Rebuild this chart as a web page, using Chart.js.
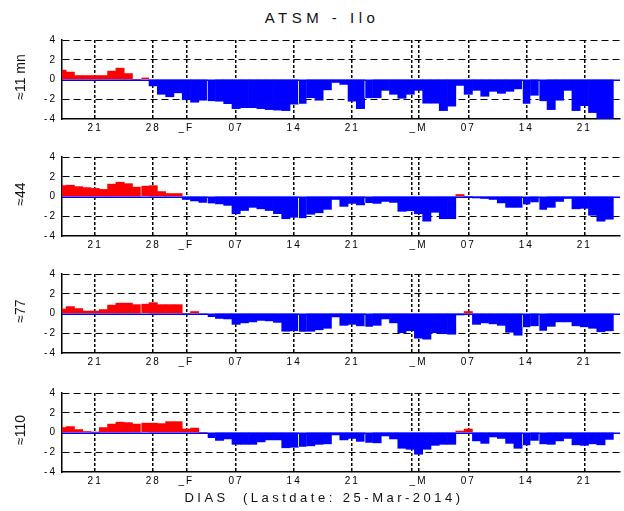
<!DOCTYPE html>
<html>
<head>
<meta charset="utf-8">
<script src="https://cdn.jsdelivr.net/npm/chart.js@4.4.1/dist/chart.umd.min.js"></script>
<style>
  html, body { margin: 0; padding: 0; background: #fff; }
  body { width: 624px; height: 511px; position: relative; overflow: hidden;
         font-family: "Liberation Sans", Arial, sans-serif; color: #111; }
  canvas.panel { position: absolute; left: 0; }
  .title { position: absolute; left: 222px; top: 8px; width: 200px; text-align: center;
           font-size: 15px; letter-spacing: 4.5px; line-height: 20px; white-space: pre; }
  .xlab { position: absolute; left: 124px; top: 489px; width: 400px; text-align: center;
          font-size: 13px; letter-spacing: 3.5px; line-height: 18px; white-space: pre; }
  .ylab { position: absolute; width: 120px; text-align: center; font-size: 14px;
          line-height: 16px; transform: rotate(-90deg); white-space: pre; }
</style>
</head>
<body>
<div class="title">ATSM - Ilo</div>
<canvas class="panel" id="p0" width="624" height="108" style="top:29px"></canvas>
<canvas class="panel" id="p1" width="624" height="108" style="top:146px"></canvas>
<canvas class="panel" id="p2" width="624" height="108" style="top:263px"></canvas>
<canvas class="panel" id="p3" width="624" height="108" style="top:382px"></canvas>
<div class="ylab" id="yl0" style="left:-40px; top:69px"></div>
<div class="ylab" id="yl1" style="left:-40px; top:186px"></div>
<div class="ylab" id="yl2" style="left:-40px; top:303px"></div>
<div class="ylab" id="yl3" style="left:-40px; top:422px"></div>
<div class="xlab">DIAS  (Lastdate: 25-Mar-2014)</div>
<script>
// Daily anomalies, 17-Jan-2014 (index 0) to 24-Mar-2014 (index 66)
const depthLabels = ['≈11 mn', '≈44', '≈77', '≈110'];

const anom11 = [0.95,0.75,0.4,0.4,0.4,0.4,0.85,1.15,0.6,0.0,0.2,
  -0.65,-1.5,-1.75,-1.35,-2.05,-2.3,-2.1,-2.2,-2.2,-2.45,
  -2.95,-2.85,-2.85,-2.95,-3.05,-3.1,-3.15,-2.5,-2.45,-1.85,
  -2.1,-1.05,-0.3,-0.5,-2.2,-2.95,-1.9,-1.85,-1.1,-1.5,
  -1.9,-1.5,-1.1,-2.4,-2.4,-3.15,-2.7,-0.6,-1.5,-1.1,
  -1.7,-1.2,-1.4,-1.2,-0.95,-2.45,-1.6,-2.2,-3.05,-2.1,
  -1.1,-3.15,-2.65,-3.35,-4.0,-4.0];

const anom44 = [1.1,1.15,1.0,0.9,0.82,0.72,1.25,1.45,1.3,0.95,1.1,
  1.1,0.5,0.3,0.3,-0.3,-0.45,-0.6,-0.7,-0.75,-0.9,
  -1.75,-1.42,-1.1,-1.25,-1.42,-1.74,-2.25,-2.1,-2.2,-1.8,
  -1.65,-1.3,-0.3,-1.0,-0.7,-0.85,-0.65,-0.7,-0.5,-0.6,
  -1.5,-1.45,-1.75,-2.5,-1.6,-2.25,-2.25,0.2,-0.02,-0.15,
  -0.2,-0.3,-0.65,-1.1,-1.1,-0.8,-0.55,-1.35,-1.1,-0.5,
  -0.2,-1.25,-1.2,-1.9,-2.5,-2.3];

const anom77 = [0.45,0.7,0.5,0.25,0.25,0.4,0.85,1.05,1.05,0.9,1.0,
  1.1,0.9,0.9,0.9,0.0,0.2,-0.1,-0.35,-0.5,-0.55,
  -1.1,-0.95,-0.85,-0.7,-0.75,-0.9,-1.8,-1.75,-1.85,-1.8,
  -1.65,-1.5,-0.35,-1.2,-1.1,-1.25,-1.35,-1.2,-0.55,-0.95,
  -1.95,-1.75,-2.5,-2.6,-1.95,-2.05,-2.1,-0.15,0.2,-1.1,
  -0.95,-1.05,-1.2,-1.9,-2.2,-1.4,-1.25,-1.75,-1.3,-0.85,
  -0.85,-1.25,-1.35,-1.5,-1.85,-1.75];

const anom110 = [0.5,0.6,0.3,0.1,0.02,0.5,0.85,1.05,1.0,0.85,1.0,
  0.95,0.9,1.1,1.1,0.35,0.45,0.0,-0.55,-0.8,-0.65,
  -1.2,-1.2,-1.2,-0.95,-0.75,-0.75,-1.55,-1.5,-1.45,-1.35,
  -1.2,-1.15,-0.25,-0.75,-0.6,-0.9,-1.05,-1.05,-0.35,-0.65,
  -1.6,-1.7,-2.2,-1.7,-1.3,-1.2,-1.2,0.15,0.35,-0.85,
  -1.1,-0.45,-0.6,-1.1,-1.6,-1.3,-0.8,-1.2,-1.2,-0.85,
  -0.6,-1.25,-1.3,-1.15,-1.25,-0.7];

// Date ticks (days after 17-Jan-2014) and their labels
const tickDays = [4, 11, 15, 21, 28, 35, 42.2, 43, 49, 56, 63];
const tickLabels = ['21', '28', '_F', '07', '14', '21', '', '_M', '07', '14', '21'];
const yTicks = [-4, -2, 0, 2, 4];
const gapAfter = [9, 17, 28, 36, 55, 57];

const series = [anom11, anom44, anom77, anom110];

const zeroLine = {
  id: 'zeroLine',
  afterDatasetsDraw(chart) {
    const { ctx, chartArea: a, scales: { y } } = chart;
    const py = Math.round(y.getPixelForValue(0)) + 0.25;
    ctx.save();
    ctx.strokeStyle = '#0000ff';
    ctx.lineWidth = 1.5;
    ctx.beginPath();
    ctx.moveTo(a.left, py);
    ctx.lineTo(a.right, py);
    ctx.stroke();
    ctx.restore();
  }
};

const spacing = {
  id: 'spacing',
  beforeDraw(chart) { chart.ctx.letterSpacing = '2px'; },
  beforeDatasetsDraw(chart) { chart.ctx.letterSpacing = '0px'; }
};

const tickFont = { family: '"Liberation Sans", Arial, sans-serif', size: 10 };

series.forEach((vals, k) => {
  document.getElementById('yl' + k).textContent = depthLabels[k];
  const pts = vals.map((v, i) => ({ x: i, y: v }));
  new Chart(document.getElementById('p' + k), {
    type: 'bar',
    data: {
      datasets: [{
        data: pts,
        backgroundColor: pts.map(p => p.y >= 0 ? '#ff0000' : '#0000ff'),
        borderColor: 'rgba(235,235,255,0.95)',
        borderWidth: c => gapAfter.includes(c.dataIndex - 1) ? { left: 1, right: 0, top: 0, bottom: 0 } : 0,
        borderSkipped: false,
        barThickness: 'flex',
        barPercentage: 1,
        categoryPercentage: 1,
        clip: 0
      }]
    },
    options: {
      responsive: false,
      animation: false,
      devicePixelRatio: 1,
      layout: { padding: { top: 6, right: 4, left: 0, bottom: 0 } },
      plugins: { legend: { display: false }, tooltip: { enabled: false }, title: { display: false } },
      scales: {
        x: {
          type: 'linear', min: 0, max: 67.3, offset: false,
          afterBuildTicks: s => { s.ticks = tickDays.map(v => ({ value: v })); },
          afterFit: s => { s.height = 18; },
          ticks: {
            autoSkip: false, maxRotation: 0, minRotation: 0, padding: 3,
            font: tickFont, color: '#000',
            callback: (v, i) => tickLabels[i]
          },
          grid: { color: '#000', lineWidth: 1.5, drawTicks: false, offset: false },
          border: { display: true, color: '#000', width: 1.5, dash: [3, 2] }
        },
        y: {
          min: -4, max: 4,
          afterBuildTicks: s => { s.ticks = yTicks.map(v => ({ value: v })); },
          afterFit: s => { s.width = 62; },
          ticks: { padding: 5, font: tickFont, color: '#000' },
          grid: {
            drawTicks: false, lineWidth: 1,
            color: c => (c.tick && (c.tick.value === 0 || c.tick.value === -4)) ? 'rgba(0,0,0,0)' : '#000'
          },
          border: { display: true, color: '#000', width: 1.5, dash: [7, 4] }
        }
      }
    },
    plugins: [spacing, zeroLine]
  });
});
</script>
</body>
</html>
